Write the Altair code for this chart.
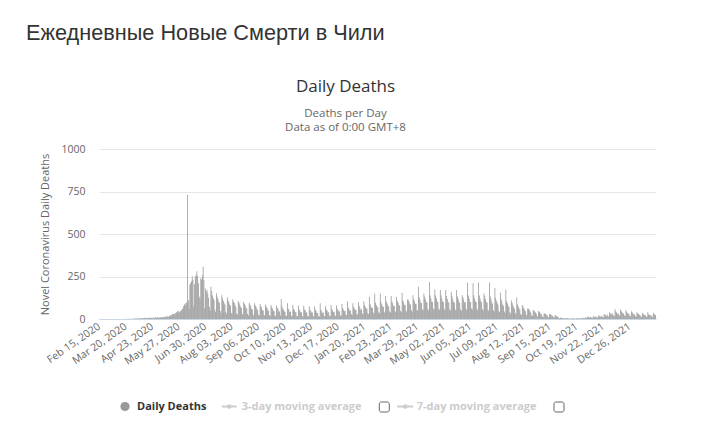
import altair as alt
import pandas as pd

# ---------------- data ----------------
START_DATE = "2020-02-15"

# daily deaths, one row per week (weeks start on Saturday, Feb 15, 2020)
DEATHS = [
    0, 0, 0, 0, 0, 0, 0,
    0, 0, 0, 0, 0, 0, 0,
    0, 0, 0, 0, 0, 0, 0,
    0, 0, 0, 0, 0, 0, 0,
    0, 0, 0, 0, 0, 0, 0,
    1, 0, 1, 0, 1, 1, 0,
    2, 1, 2, 3, 1, 4, 2,
    3, 5, 2, 6, 4, 3, 5,
    6, 4, 8, 5, 7, 3, 6,
    7, 4, 9, 8, 6, 5, 10,
    8, 5, 11, 9, 7, 12, 6,
    9, 10, 8, 12, 11, 9, 13,
    12, 14, 11, 18, 15, 13, 17,
    22, 25, 20, 31, 30, 28, 33,
    35, 40, 45, 43, 49, 38, 45,
    52, 57, 60, 75, 87, 81, 95,
    96, 730, 110, 60, 200, 212, 222,
    252, 231, 75, 205, 252, 260, 281,
    252, 210, 131, 118, 240, 232, 258,
    308, 229, 62, 180, 160, 170, 150,
    125, 72, 48, 190, 165, 140, 122,
    112, 58, 42, 152, 132, 118, 102,
    96, 47, 36, 140, 122, 106, 92,
    86, 42, 31, 126, 110, 100, 86,
    80, 37, 29, 116, 102, 94, 80,
    72, 33, 26, 106, 96, 86, 72,
    66, 31, 23, 100, 90, 80, 66,
    62, 29, 21, 96, 86, 76, 60,
    58, 26, 20, 92, 80, 70, 56,
    54, 25, 19, 88, 76, 68, 52,
    50, 23, 20, 85, 72, 64, 50,
    48, 22, 18, 82, 70, 60, 48,
    46, 21, 18, 80, 66, 58, 45,
    44, 20, 118, 78, 63, 56, 44,
    43, 20, 17, 92, 62, 55, 42,
    42, 19, 16, 82, 60, 52, 40,
    40, 18, 16, 80, 58, 50, 40,
    40, 18, 15, 78, 56, 50, 38,
    38, 18, 15, 75, 55, 48, 38,
    38, 17, 14, 74, 54, 46, 36,
    36, 17, 15, 92, 55, 45, 36,
    38, 18, 16, 76, 56, 48, 38,
    40, 19, 17, 82, 58, 50, 40,
    42, 20, 18, 80, 60, 52, 42,
    45, 22, 20, 88, 64, 55, 45,
    48, 25, 22, 105, 68, 58, 48,
    50, 28, 24, 92, 72, 62, 52,
    55, 30, 26, 98, 76, 66, 55,
    58, 32, 28, 105, 82, 70, 60,
    62, 35, 30, 131, 88, 76, 64,
    66, 38, 32, 150, 95, 82, 70,
    70, 40, 34, 150, 100, 88, 74,
    72, 42, 36, 135, 102, 90, 76,
    74, 44, 38, 135, 104, 92, 78,
    76, 45, 38, 131, 106, 94, 80,
    80, 48, 40, 154, 110, 98, 84,
    82, 50, 42, 115, 112, 100, 86,
    86, 52, 44, 140, 118, 104, 90,
    90, 55, 48, 190, 128, 110, 95,
    94, 58, 50, 150, 132, 115, 98,
    98, 60, 52, 218, 138, 120, 102,
    100, 62, 54, 174, 140, 122, 104,
    100, 62, 54, 170, 138, 120, 104,
    98, 60, 52, 170, 136, 118, 102,
    96, 58, 50, 160, 134, 116, 100,
    96, 58, 50, 170, 132, 116, 100,
    94, 56, 48, 140, 130, 114, 98,
    98, 60, 52, 213, 138, 120, 102,
    100, 62, 54, 210, 140, 122, 104,
    100, 60, 52, 214, 138, 121, 104,
    98, 58, 50, 150, 136, 118, 100,
    96, 56, 48, 214, 132, 116, 98,
    90, 52, 44, 183, 124, 108, 92,
    84, 48, 40, 154, 116, 100, 86,
    78, 44, 36, 174, 106, 92, 78,
    70, 40, 32, 111, 96, 84, 70,
    62, 36, 28, 127, 86, 74, 62,
    54, 30, 24, 82, 74, 64, 54,
    46, 26, 20, 62, 62, 54, 46,
    38, 22, 18, 53, 50, 44, 38,
    32, 18, 15, 47, 42, 36, 30,
    26, 15, 12, 33, 34, 30, 25,
    22, 12, 10, 29, 28, 25, 20,
    18, 10, 8, 23, 20, 16, 14,
    10, 6, 4, 8, 7, 6, 5,
    5, 3, 2, 6, 5, 4, 3,
    4, 2, 2, 5, 4, 3, 3,
    3, 2, 2, 5, 4, 3, 3,
    5, 3, 3, 8, 6, 5, 5,
    10, 6, 5, 14, 12, 10, 9,
    12, 8, 6, 18, 15, 12, 11,
    14, 9, 7, 20, 17, 14, 13,
    20, 12, 10, 30, 26, 22, 18,
    26, 16, 14, 40, 34, 30, 25,
    32, 20, 18, 58, 44, 38, 30,
    34, 22, 20, 56, 46, 40, 32,
    32, 20, 18, 52, 42, 36, 30,
    30, 18, 16, 45, 38, 32, 28,
    26, 16, 14, 40, 34, 30, 25,
    24, 15, 13, 36, 30, 26, 22,
    22, 14, 12, 40, 28, 24, 20,
    24, 15, 13, 35, 30, 26, 22,
]

TICK_LABELS = [
    "Feb 15, 2020", "Mar 20, 2020", "Apr 23, 2020", "May 27, 2020",
    "Jun 30, 2020", "Aug 03, 2020", "Sep 06, 2020", "Oct 10, 2020",
    "Nov 13, 2020", "Dec 17, 2020", "Jan 20, 2021", "Feb 23, 2021",
    "Mar 29, 2021", "May 02, 2021", "Jun 05, 2021", "Jul 09, 2021",
    "Aug 12, 2021", "Sep 15, 2021", "Oct 19, 2021", "Nov 22, 2021",
    "Dec 26, 2021",
]
Y_TICKS = [0, 250, 500, 750, 1000]

PAGE_TITLE = "Ежедневные Новые Смерти в Чили"
CHART_TITLE = "Daily Deaths"
SUBTITLE_1 = "Deaths per Day"
SUBTITLE_2 = "Data as of 0:00 GMT+8"
Y_TITLE = "Novel Coronavirus Daily Deaths"
LEGEND_LABELS = ["Daily Deaths", "3-day moving average", "7-day moving average"]

# ---------------- build ----------------
dates = pd.date_range(START_DATE, periods=len(DEATHS), freq="D")
labels = [d.strftime("%b %d, %Y") for d in dates]
df = pd.DataFrame({"day": labels, "deaths": DEATHS})

FONT = "Open Sans"
BAR_COLOR = "#999999"

bars = alt.Chart(df).mark_bar(color="#939393").encode(
    x=alt.X(
        "day:O",
        sort=None,
        scale=alt.Scale(paddingInner=0.05, paddingOuter=0),
        axis=alt.Axis(
            values=TICK_LABELS, labelAngle=-35, labelAlign="right",
            labelBaseline="middle", ticks=False, domainColor="#ccd6eb",
            labelColor="#666666", labelFont=FONT, labelFontSize=10.5,
            labelPadding=6, title=None, labelOverlap=False, grid=False,
        ),
    ),
    y=alt.Y(
        "deaths:Q",
        scale=alt.Scale(domain=[0, 1000], nice=False),
        axis=alt.Axis(
            values=Y_TICKS, format="d", ticks=False, domain=False, gridColor="#e6e6e6",
            labelColor="#666666", labelFont=FONT, labelFontSize=10.5,
            labelPadding=14, title=Y_TITLE, titleColor="#666666",
            titleFont=FONT, titleFontSize=11, titleFontWeight="normal",
            titleX=-54, titleY=85, titleAngle=-90, titleAlign="center",
            titleBaseline="middle",
        ),
    ),
)

one = alt.Data(values=[{}])


def text_layer(txt, x, y, size, color, weight="normal", align="left", font=FONT):
    return alt.Chart(one).mark_text(
        text=txt, font=font, fontSize=size, color=color, fontWeight=weight,
        align=align, baseline="middle",
    ).encode(x=alt.value(x), y=alt.value(y))


OX, OY = 99, 149  # plot origin on the page

layers = [bars]
layers.append(text_layer(PAGE_TITLE, 26 - OX, 33 - OY, 21.7, "#333333", font="Liberation Sans"))
layers.append(text_layer(CHART_TITLE, 345.5 - OX, 87 - OY, 17, "#333333", align="center"))
layers.append(text_layer(SUBTITLE_1, 345.5 - OX, 114 - OY, 11.5, "#666666", align="center"))
layers.append(text_layer(SUBTITLE_2, 345.5 - OX, 128 - OY, 11.5, "#666666", align="center"))

# legend
LY = 406.5 - OY
layers.append(alt.Chart(one).mark_point(filled=True, shape="circle", size=85, color=BAR_COLOR, opacity=1)
              .encode(x=alt.value(125 - OX), y=alt.value(LY)))
layers.append(text_layer(LEGEND_LABELS[0], 137 - OX, LY, 11, "#333333", weight="bold"))
for (x1, x2, bx) in [(221.7, 236.7, 379.3), (397.3, 413.3, 554)]:
    layers.append(alt.Chart(one).mark_rule(color="#cccccc", strokeWidth=2)
                  .encode(x=alt.value(x1 - OX), x2=alt.value(x2 - OX), y=alt.value(LY)))
    layers.append(alt.Chart(one).mark_point(filled=True, shape="circle", size=22, color="#cccccc", opacity=1)
                  .encode(x=alt.value((x1 + x2) / 2 - OX), y=alt.value(LY)))
    layers.append(alt.Chart(one).mark_rect(fill="white", stroke="#666666", strokeWidth=1, cornerRadius=2)
                  .encode(x=alt.value(bx - OX), x2=alt.value(bx + 10 - OX),
                          y=alt.value(LY - 4.5), y2=alt.value(LY + 5.5)))
layers.append(text_layer(LEGEND_LABELS[1], 241.7 - OX, LY, 11, "#cccccc", weight="bold"))
layers.append(text_layer(LEGEND_LABELS[2], 416.7 - OX, LY, 11, "#cccccc", weight="bold"))

chart = alt.layer(*layers).properties(
    width=557, height=170,
    padding={"left": OX, "top": OY, "right": 728 - 656, "bottom": 430 - 319},
    autosize=alt.AutoSizeParams(type="none"),
    background="white",
).configure_view(strokeWidth=0)

chart.save("out.html", embed_options={"renderer": "svg", "actions": False})
